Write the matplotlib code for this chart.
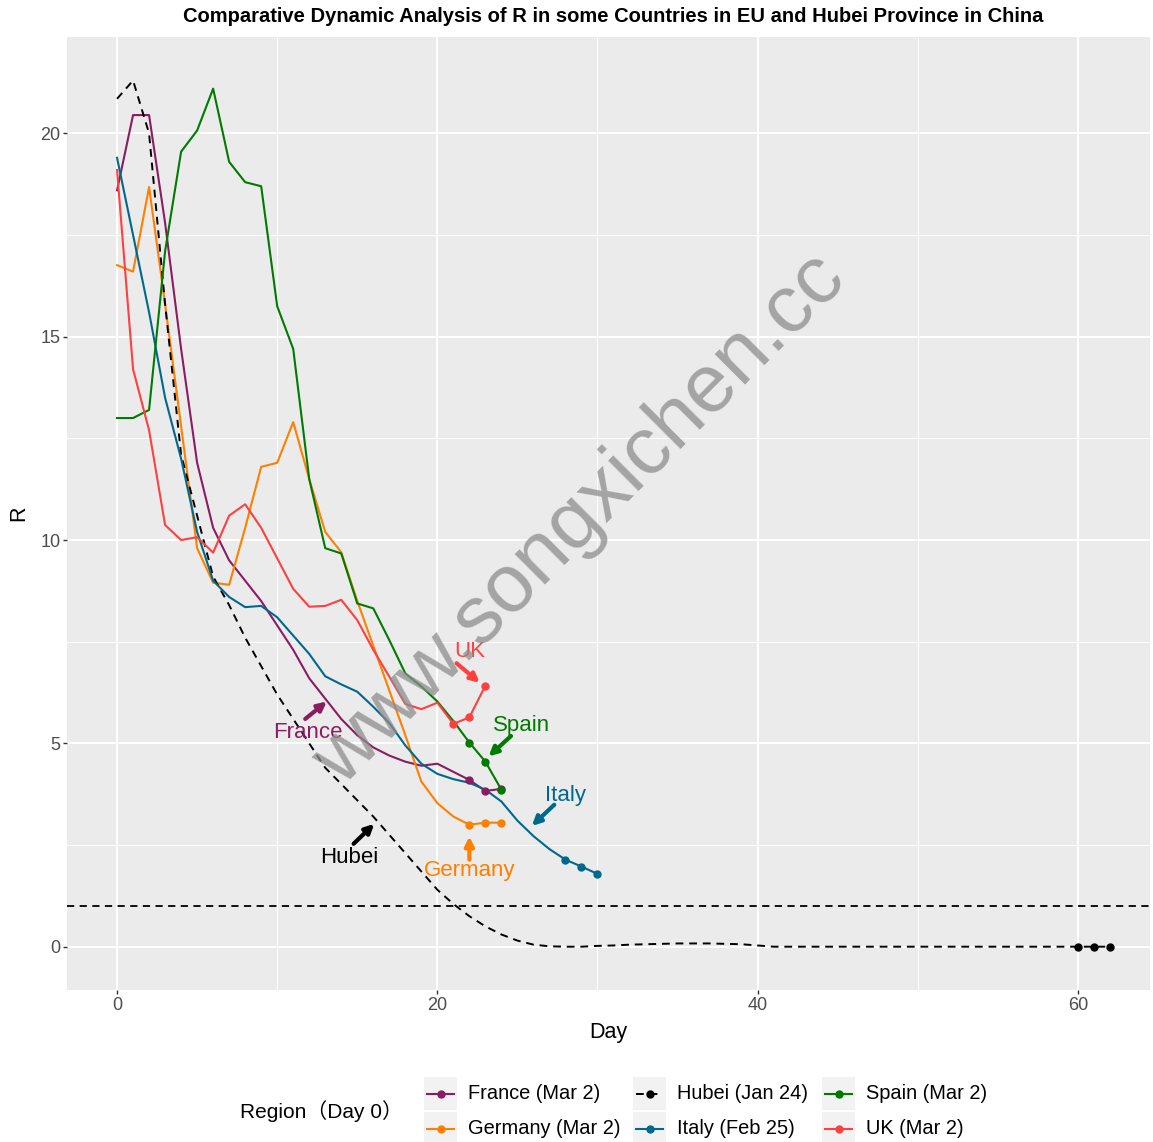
import matplotlib
matplotlib.use("Agg")
import matplotlib.pyplot as plt
from matplotlib.patches import Rectangle

plt.rcParams["font.family"] = ["Liberation Sans", "Noto Sans CJK SC", "DejaVu Sans"]

# R by day since day 0
france = [18.6, 20.45, 20.45, 17.8, 14.7, 11.9, 10.3, 9.5, 9.0, 8.5, 7.9, 7.3, 6.6,
          6.1, 5.6, 5.2, 4.9, 4.7, 4.55, 4.45, 4.5, 4.3, 4.1, 3.83, 3.88]
germany = [16.76, 16.6, 18.68, 15.8, 12.8, 9.8, 8.95, 8.9, 10.3, 11.8, 11.9, 12.9, 11.5,
           10.2, 9.7, 8.5, 7.4, 6.3, 5.2, 4.06, 3.53, 3.2, 3.0, 3.05, 3.05]
hubei = [20.85, 21.3, 20.0, 15.8, 12.1, 10.6, 9.1, 8.4, 7.6, 6.9, 6.2, 5.6, 5.0,
         4.4, 4.0, 3.6, 3.2, 2.75, 2.3, 1.85, 1.4, 1.05, 0.75, 0.5, 0.3, 0.15, 0.05,
         0.01, 0.0, 0.0, 0.02, 0.03, 0.05, 0.06, 0.07, 0.08, 0.08, 0.08, 0.07, 0.06,
         0.03, 0.0, 0.0, 0.0, 0.0, 0.0, 0.0, 0.0, 0.0, 0.0, 0.0, 0.0, 0.0, 0.0, 0.0,
         0.0, 0.0, 0.0, 0.0, 0.0, 0.0, 0.0, 0.0]
italy = [19.4, 17.5, 15.6, 13.5, 12.0, 10.2, 9.0, 8.6, 8.35, 8.38, 8.1, 7.65, 7.2,
         6.65, 6.45, 6.27, 5.9, 5.5, 4.95, 4.5, 4.25, 4.12, 4.03, 3.86, 3.57, 3.1,
         2.72, 2.4, 2.14, 1.97, 1.79]
spain = [13.0, 13.0, 13.2, 17.1, 19.55, 20.07, 21.1, 19.3, 18.8, 18.7, 15.75, 14.7,
         11.5, 9.8, 9.67, 8.44, 8.32, 7.54, 6.72, 6.4, 6.03, 5.55, 5.02, 4.55, 3.86]
uk = [19.1, 14.2, 12.7, 10.37, 10.0, 10.07, 9.69, 10.6, 10.88, 10.3, 9.55, 8.8, 8.36,
      8.38, 8.53, 8.03, 7.3, 6.64, 5.97, 5.84, 6.0, 5.48, 5.64, 6.42]

regions = ["France", "Germany", "Hubei", "Italy", "Spain", "UK"]
day0 = ["Mar 2", "Mar 2", "Jan 24", "Feb 25", "Mar 2", "Mar 2"]
series = [france, germany, hubei, italy, spain, uk]
colors = ["#8B1C62", "#FF7F00", "black", "#00688B", "#007A00", "#FF4040"]

# label text position, arrow start, arrow end (day, R)
labels = {
    "UK": ((22.0, 7.25), (21.2, 6.97), (22.65, 6.49)),
    "Spain": ((25.25, 5.45), (24.6, 5.18), (23.2, 4.68)),
    "Italy": ((28.0, 3.73), (27.3, 3.49), (25.9, 2.97)),
    "Germany": ((22.0, 1.87), (22.0, 2.14), (22.0, 2.71)),
    "Hubei": ((14.5, 2.19), (14.77, 2.53), (16.06, 3.02)),
    "France": ((11.94, 5.26), (11.75, 5.6), (13.1, 6.03)),
}

W, H = 1153, 1142
fig = plt.figure(figsize=(W / 100, H / 100), dpi=100)
ax = fig.add_axes([67.4 / W, 1 - 990 / H, (1150 - 67.4) / W, (990 - 37) / H])
ax.set_facecolor("#EBEBEB")
for s in ax.spines.values():
    s.set_visible(False)

ax.set_xlim(-3.1, 64.5)
ax.set_ylim(-1.065, 22.37)
ax.set_xticks([0, 20, 40, 60])
ax.set_xticks([10, 30, 50], minor=True)
ax.set_yticks([0, 5, 10, 15, 20])
ax.set_yticks([2.5, 7.5, 12.5, 17.5], minor=True)
ax.grid(which="major", color="white", lw=1.5)
ax.grid(which="minor", color="white", lw=0.75)
ax.set_axisbelow(True)
ax.tick_params(which="major", length=3, width=1, color="#333333", labelsize=13,
               labelcolor="#4D4D4D", pad=2)
ax.tick_params(which="minor", length=0)

ax.axhline(1, color="black", lw=1.3, dashes=(4, 3), zorder=2)

for name, vals, c in zip(regions, series, colors):
    d = list(range(len(vals)))
    if name == "Hubei":
        ax.plot(d, vals, color=c, lw=1.4, dashes=(4, 3), zorder=3)
    else:
        ax.plot(d, vals, color=c, lw=1.5, zorder=3)
    ax.plot(d[-3:], vals[-3:], "o", color=c, ms=5, zorder=4)

for name, c in zip(regions, colors):
    (tx, ty), start, end = labels[name]
    ax.text(tx, ty, name, color=c, fontsize=16, ha="center", va="center", zorder=5)
    ax.annotate("", xy=end, xytext=start,
                arrowprops=dict(arrowstyle="-|>", color=c, lw=3, mutation_scale=13,
                                shrinkA=0, shrinkB=0), zorder=5)

ax.set_xlabel("Day", fontsize=15.5, labelpad=6)
ax.set_ylabel("R", fontsize=15.5, labelpad=8)
fig.text(613 / W, 1 - 17 / H,
         "Comparative Dynamic Analysis of R in some Countries in EU and Hubei Province in China",
         ha="center", va="center", fontsize=14.5, fontweight="bold")

# overlay in pixel coordinates: watermark and legend
ov = fig.add_axes([0, 0, 1, 1], facecolor="none")
ov.set_xlim(0, W)
ov.set_ylim(H, 0)
ov.axis("off")

ov.text(580, 520, "www.songxichen.cc", fontsize=59, color="#8C8C8C", alpha=0.75,
        rotation=45, ha="center", va="center", rotation_mode="anchor")

ov.text(240, 1111, "Region（Day 0）", fontsize=15, ha="left", va="center")
key_x = [424, 633, 822]
key_y = [1077, 1112]
for i, (name, lab, c) in enumerate(zip(regions, day0, colors)):
    x0 = key_x[i // 2]
    y0 = key_y[i % 2]
    ov.add_patch(Rectangle((x0, y0), 33, 33, facecolor="#F2F2F2", edgecolor="none"))
    yc = y0 + 16.5
    if name == "Hubei":
        ov.plot([x0 + 3, x0 + 30], [yc, yc], color=c, lw=1.4, dashes=(4, 3))
    else:
        ov.plot([x0 + 3, x0 + 30], [yc, yc], color=c, lw=1.5)
    ov.plot([x0 + 16.5], [yc], "o", color=c, ms=5)
    ov.text(x0 + 44, yc, f"{name} ({lab})", fontsize=14.4, ha="left", va="center")

fig.savefig("out.png", dpi=100)
